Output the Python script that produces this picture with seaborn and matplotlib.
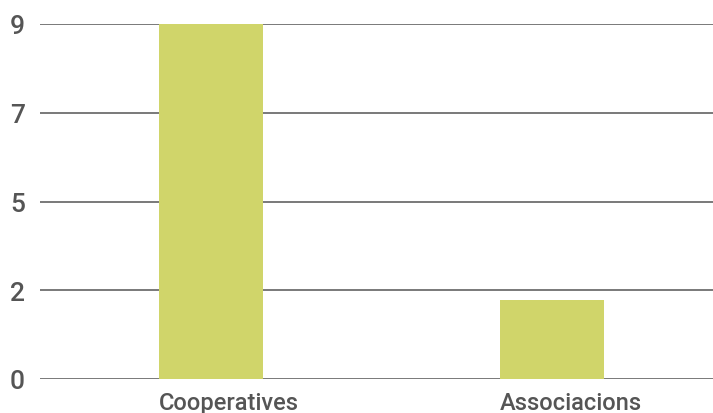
import numpy as np
import pandas as pd
import matplotlib
matplotlib.use("Agg")
import matplotlib.pyplot as plt
import seaborn as sns

# Dades
categories = ["Cooperatives", "Associacions"]
values = [9, 2]
tick_values = [0, 2.25, 4.5, 6.75, 9]
tick_labels = ["0", "2", "5", "7", "9"]

df = pd.DataFrame({"tipus": categories, "nombre": values})

sns.set_style("white")
plt.rcParams["font.family"] = ["Roboto", "DejaVu Sans"]

bar_w = 0.305
fig = plt.figure(figsize=(7.13, 4.14), dpi=100)
ax = fig.add_axes([40 / 713, 34 / 414, 673 / 713, 355 / 414])

sns.barplot(data=df, x="tipus", y="nombre", color="#d0d56a", width=bar_w,
            saturation=1, linewidth=0, ax=ax, zorder=3)

ax.set_ylim(0, 9)
ax.set_xlim(-0.501, 1.472)
ax.set_yticks(tick_values)
ax.set_yticklabels(tick_labels, fontweight="medium")
# etiquetes alineades a l'esquerra de cada barra
ax.set_xticks(np.arange(len(categories)) - bar_w / 2)
ax.set_xticklabels(categories, ha="left", fontweight="medium", fontsize=17)
ax.yaxis.grid(True, color="#555555", linewidth=1.1, zorder=1)
ax.set_axisbelow(True)
for s in ax.spines.values():
    s.set_visible(False)
ax.tick_params(axis="both", length=0, colors="#555555")
ax.tick_params(axis="y", pad=11, labelsize=19)
ax.tick_params(axis="x", pad=8.5)
ax.set_xlabel("")
ax.set_ylabel("")

fig.savefig("out.png", dpi=100)
